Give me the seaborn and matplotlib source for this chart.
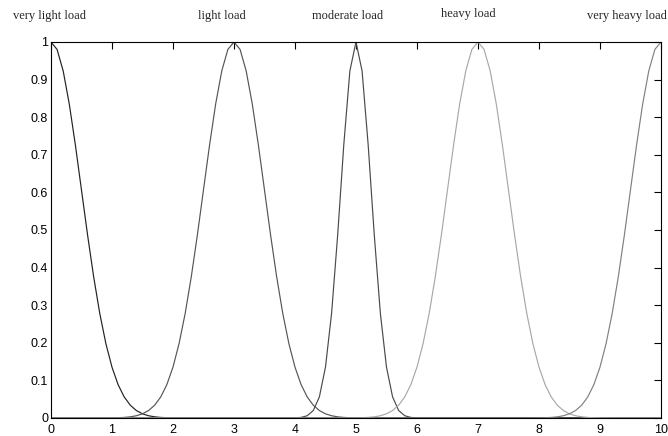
import numpy as np
import pandas as pd
import matplotlib
matplotlib.use("Agg")
import matplotlib.pyplot as plt
import seaborn as sns

# membership functions
labels = ["very light load", "light load", "moderate load", "heavy load", "very heavy load"]
centers = [0, 3, 5, 7, 10]
sigmas = [0.5, 0.5, 0.25, 0.5, 0.5]
colors = ["#222222", "#555555", "#4a4a4a", "#a8a8a8", "#808080"]
# label positions above the axes (x in data units, y slightly above 1)
label_x = [-0.02, 2.80, 4.87, 6.84, 9.44]
label_y = [1.068, 1.068, 1.068, 1.074, 1.068]

x = np.linspace(0, 10, 101)
rows = []
for name, c, s in zip(labels, centers, sigmas):
    for xv in x:
        rows.append({"x": xv, "mu": np.exp(-(xv - c) ** 2 / (2 * s ** 2)), "set": name})
df = pd.DataFrame(rows)

sns.set_style("white")
plt.rcParams["font.family"] = ["Liberation Sans", "DejaVu Sans"]

fig = plt.figure(figsize=(6.68, 4.36), dpi=100)
ax = fig.add_axes([0.0763, 0.0413, 0.9132, 0.8624])

sns.lineplot(data=df, x="x", y="mu", hue="set", palette=dict(zip(labels, colors)),
             linewidth=0.85, legend=False, ax=ax)

ax.set_xlim(0, 10)
ax.set_ylim(0, 1)
ax.set_xticks(range(0, 11))
ax.set_yticks(np.round(np.arange(0, 1.01, 0.1), 1))
ax.set_yticklabels(["0", "0.1", "0.2", "0.3", "0.4", "0.5", "0.6", "0.7", "0.8", "0.9", "1"])
ax.tick_params(direction="in", length=5, width=0.8, top=True, right=True,
               labelsize=9, colors="black", pad=2)
ax.tick_params(axis="x", pad=4)
for sp in ax.spines.values():
    sp.set_color("black")
    sp.set_linewidth(0.8)
ax.set_xlabel("")
ax.set_ylabel("")

for name, lx, ly in zip(labels, label_x, label_y):
    ax.text(lx, ly, name, ha="center", va="center", fontsize=9,
            family=["Liberation Serif", "DejaVu Serif"], clip_on=False)

fig.savefig("out.png", dpi=100)
